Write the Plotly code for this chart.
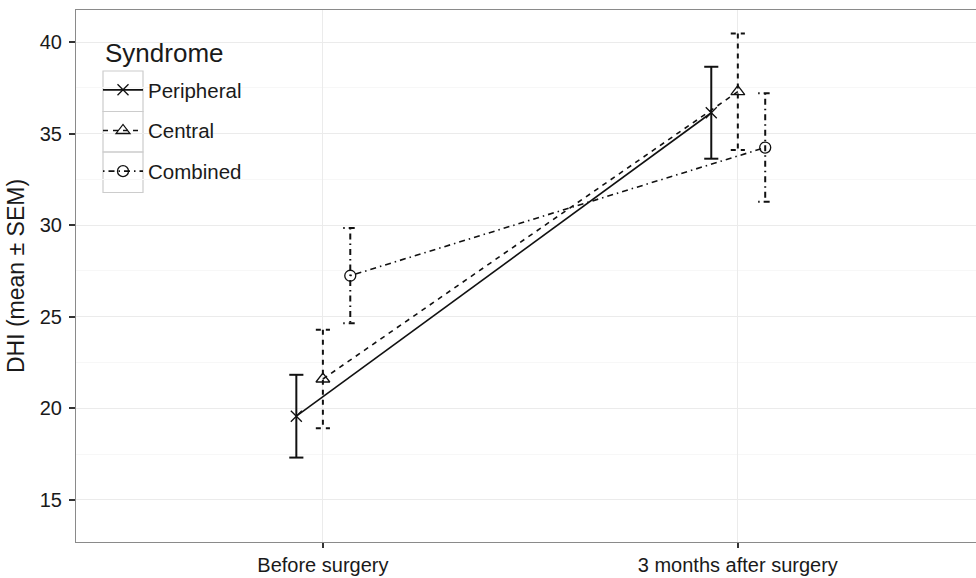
import plotly.graph_objects as go

categories = ["Before surgery", "3 months after surgery"]
series_names = ["Peripheral", "Central", "Combined"]
peripheral_mean = [19.57, 36.14]
peripheral_sem = [2.26, 2.51]
central_mean = [21.6, 37.29]
central_sem = [2.69, 3.18]
combined_mean = [27.24, 34.24]
combined_sem = [2.6, 2.96]
y_ticks = [15, 20, 25, 30, 35, 40]

means = [peripheral_mean, central_mean, combined_mean]
sems = [peripheral_sem, central_sem, combined_sem]
offsets = [-0.064, 0.0, 0.066]
dashes = ["solid", "5px,5px", "1.5px,4px,6px,4px"]
symbols = ["x-thin-open", "triangle-up-open", "circle-open"]
msizes = [11, 12, 11]
cap = 0.017
col = "#111111"

fig = go.Figure()
for k, name in enumerate(series_names):
    xs = [i + 1 + offsets[k] for i in range(len(categories))]
    ex, ey = [], []
    for x, m, s in zip(xs, means[k], sems[k]):
        ex += [x - cap, x + cap, None, x, x, None, x - cap, x + cap, None]
        ey += [m + s, m + s, None, m + s, m - s, None, m - s, m - s, None]
    fig.add_trace(go.Scatter(x=ex, y=ey, mode="lines", showlegend=False,
                             line=dict(color=col, width=2, dash=dashes[k]),
                             hoverinfo="skip"))
    fig.add_trace(go.Scatter(x=xs, y=means[k], mode="lines+markers", name=name,
                             legendgroup=name,
                             line=dict(color=col, width=1.6, dash=dashes[k]),
                             marker=dict(symbol=symbols[k], size=msizes[k],
                                         color=col, line=dict(width=1.3, color=col))))

# legend key boxes (decoration, paper coordinates)
L, T, W, H = 76, 10, 900, 532
def px(xp):
    return (xp - L) / W
def py(yp):
    return 1 - (yp - T) / H
for top in [71, 111.5, 152]:
    fig.add_shape(type="rect", xref="paper", yref="paper",
                  x0=px(103), x1=px(143), y0=py(top), y1=py(top + 40.5),
                  line=dict(color="#cccccc", width=1.2), fillcolor="rgba(0,0,0,0)",
                  layer="below")

fig.add_annotation(text="Syndrome", xref="paper", yref="paper",
                   x=px(103), y=py(53), xanchor="left", yanchor="middle",
                   showarrow=False, font=dict(size=26))

fig.update_layout(
    width=976, height=578,
    margin=dict(l=76, r=0, t=10, b=36),
    paper_bgcolor="white", plot_bgcolor="white",
    font=dict(family="Liberation Sans, Arial, sans-serif", color="#1a1a1a", size=20),
    legend=dict(x=px(98), y=py(70), xanchor="left", yanchor="top",
                font=dict(size=20.5), bgcolor="rgba(0,0,0,0)",
                tracegroupgap=11, itemwidth=40),
    xaxis=dict(range=[0.405, 2.574], tickvals=[1, 2], ticktext=categories,
               showgrid=True, gridcolor="#ebebeb", gridwidth=1,
               showline=True, linecolor="#8a8a8a", linewidth=1.2, mirror=True,
               ticks="outside", ticklen=5, tickcolor="#333333", tickwidth=2,
               tickfont=dict(size=20), ticklabelstandoff=0, zeroline=False,
               automargin=False),
    yaxis=dict(range=[12.7, 41.75], tickvals=y_ticks,
               showgrid=True, gridcolor="#ebebeb", gridwidth=1,
               minor=dict(dtick=2.5, tick0=12.5, showgrid=True, gridcolor="#f7f7f7", gridwidth=1),
               showline=True, linecolor="#8a8a8a", linewidth=1.2,
               ticks="outside", ticklen=6, tickcolor="#333333", tickwidth=2,
               tickfont=dict(size=20), ticklabelstandoff=3, zeroline=False,
               automargin=False,
               title=dict(text="DHI (mean ± SEM)", font=dict(size=23), standoff=8)),
)

fig.write_html("out.html")
